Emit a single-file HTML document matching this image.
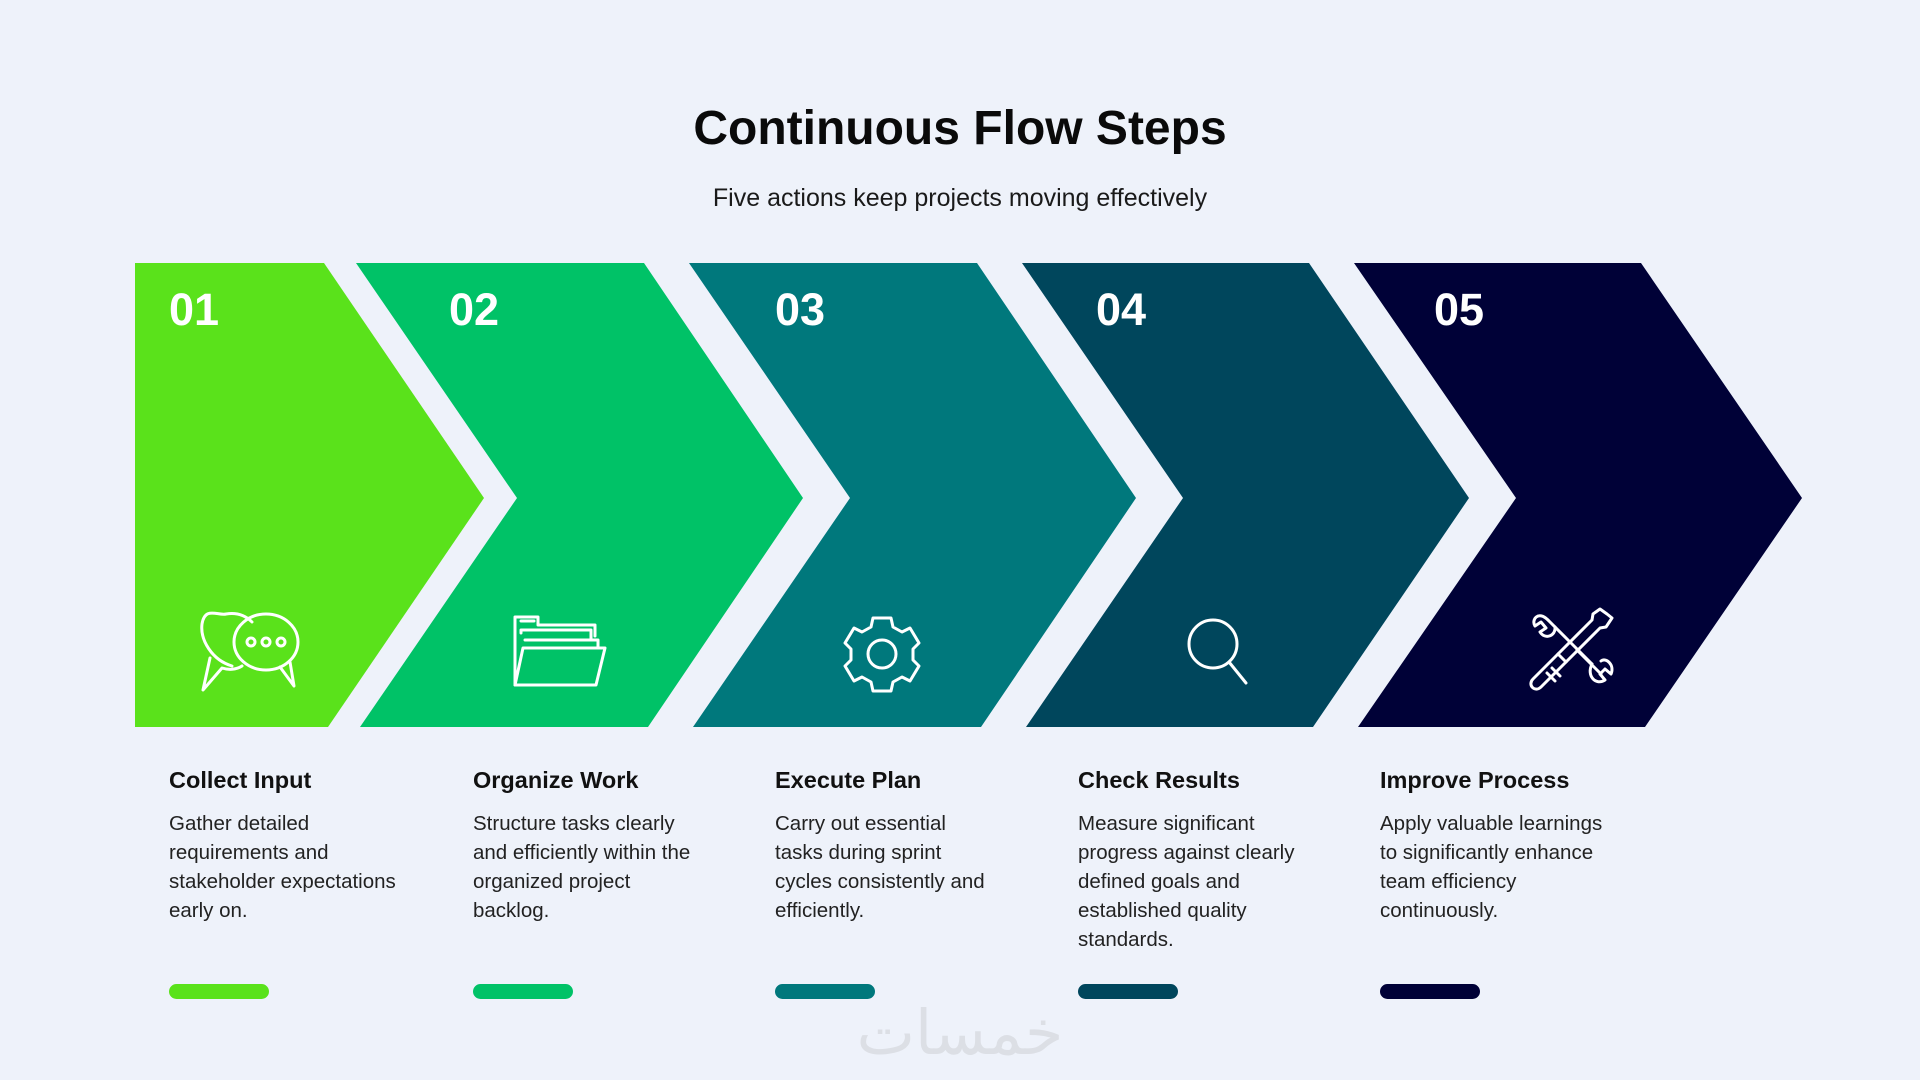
<!DOCTYPE html>
<html><head><meta charset="utf-8"><style>
html,body{margin:0;padding:0;background:#eef2fa;width:1920px;height:1080px;overflow:hidden;font-family:"Liberation Sans",sans-serif;}
</style></head><body>
<svg width="1920" height="1080" viewBox="0 0 1920 1080" xmlns="http://www.w3.org/2000/svg" font-family="Liberation Sans, sans-serif">
<rect width="1920" height="1080" fill="#eef2fa"/>
<text x="960" y="144" text-anchor="middle" font-size="48" font-weight="bold" fill="#0a0a0a">Continuous Flow Steps</text>
<text x="960" y="206" text-anchor="middle" font-size="25" fill="#1a1a1a">Five actions keep projects moving effectively</text>

<polygon points="135,263 324,263 484,498 328,727 135,727" fill="#5ae21b"/>
<polygon points="356,263 644,263 803,498 648,727 360,727 517,498" fill="#00c267"/>
<polygon points="689,263 977,263 1136,498 981,727 693,727 850,498" fill="#00787c"/>
<polygon points="1022,263 1309,263 1469,498 1313,727 1026,727 1183,498" fill="#00465c"/>
<polygon points="1354,263 1641,263 1802,498 1645,727 1358,727 1516,498" fill="#000137"/>

<g fill="#fff" font-size="45" font-weight="bold">
<text x="169" y="325">01</text>
<text x="449" y="325">02</text>
<text x="775" y="325">03</text>
<text x="1096" y="325">04</text>
<text x="1434" y="325">05</text>
</g>

<g fill="none" stroke="#fff" stroke-width="3" stroke-linejoin="round" stroke-linecap="round">
<!-- chat -->
<path d="M232,666 C212,660 200,640 202,624 C205,606 218,616 226,614 C238,612 246,616 252,622"/>
<path d="M210,658 L203,690 L222,668 C228,670 236,670 242,666"/>
<ellipse cx="266" cy="642" rx="32" ry="28"/>
<path d="M280,667 L294,686 L290,662"/>
<circle cx="251" cy="642" r="4"/><circle cx="266" cy="642" r="4"/><circle cx="281" cy="642" r="4"/>
<!-- folder -->
<path d="M515,685 L515,617 L538,617 L538,625 L595,625 L595,636"/>
<path d="M521,633 L521,630 L591,630 L591,640"/>
<path d="M525,640 L598,640 L598,648"/>
<path d="M523,648 L605,648 L596,685 L515,685 Z"/>
<path d="M521,621 L534,621"/>
<!-- gear -->
<path d="M873,618 L891,618 L893,627 L902,632 L910,628 L919,643 L913,649 L913,660 L919,666 L910,681 L902,677 L893,682 L891,691 L873,691 L871,682 L862,677 L854,681 L845,666 L851,660 L851,649 L845,643 L854,628 L862,632 L871,627 Z"/>
<circle cx="882" cy="654" r="14"/>
<!-- search -->
<circle cx="1213" cy="644" r="24"/>
<path d="M1229,662 L1246,683"/>
<!-- tools -->
<path d="M1548,620 L1568,640 L1592,664 M1577,650 L1601,674"/>
<path d="M1548,620 C1538,610 1531,620 1535,626 L1541,622 L1546,628 L1540,632 C1545,640 1556,636 1555,627"/>
<path d="M1592,664 C1586,676 1596,686 1605,680 L1600,674 L1605,669 L1611,674 C1615,665 1606,657 1601,661"/>
<path d="M1607,614 L1612,618 L1606,627 L1600,628 L1566,662 L1558,654 L1592,620 L1593,614 L1600,609 Z"/>
<path d="M1566,662 L1541,687 C1535,693 1527,685 1533,679 L1558,654"/>
<path d="M1552,668 L1560,676 M1547,673 L1555,681"/>
</g>

<g fill="#111">
<g font-size="23.5" font-weight="bold">
<text x="169" y="788">Collect Input</text>
<text x="473" y="788">Organize Work</text>
<text x="775" y="788">Execute Plan</text>
<text x="1078" y="788">Check Results</text>
<text x="1380" y="788">Improve Process</text>
</g>
<g font-size="20.5" fill="#222">
<text x="169" y="830">Gather detailed</text>
<text x="169" y="859">requirements and</text>
<text x="169" y="888">stakeholder expectations</text>
<text x="169" y="917">early on.</text>
<text x="473" y="830">Structure tasks clearly</text>
<text x="473" y="859">and efficiently within the</text>
<text x="473" y="888">organized project</text>
<text x="473" y="917">backlog.</text>
<text x="775" y="830">Carry out essential</text>
<text x="775" y="859">tasks during sprint</text>
<text x="775" y="888">cycles consistently and</text>
<text x="775" y="917">efficiently.</text>
<text x="1078" y="830">Measure significant</text>
<text x="1078" y="859">progress against clearly</text>
<text x="1078" y="888">defined goals and</text>
<text x="1078" y="917">established quality</text>
<text x="1078" y="946">standards.</text>
<text x="1380" y="830">Apply valuable learnings</text>
<text x="1380" y="859">to significantly enhance</text>
<text x="1380" y="888">team efficiency</text>
<text x="1380" y="917">continuously.</text>
</g>
</g>

<rect x="169" y="984" width="100" height="15" rx="7.5" fill="#5ae21b"/>
<rect x="473" y="984" width="100" height="15" rx="7.5" fill="#00c267"/>
<rect x="775" y="984" width="100" height="15" rx="7.5" fill="#00787c"/>
<rect x="1078" y="984" width="100" height="15" rx="7.5" fill="#00465c"/>
<rect x="1380" y="984" width="100" height="15" rx="7.5" fill="#000137"/>

<text x="960" y="1054" text-anchor="middle" font-size="62" font-family="DejaVu Sans, sans-serif" fill="#dcdfe5">خمسات</text>
</svg>
</body></html>
